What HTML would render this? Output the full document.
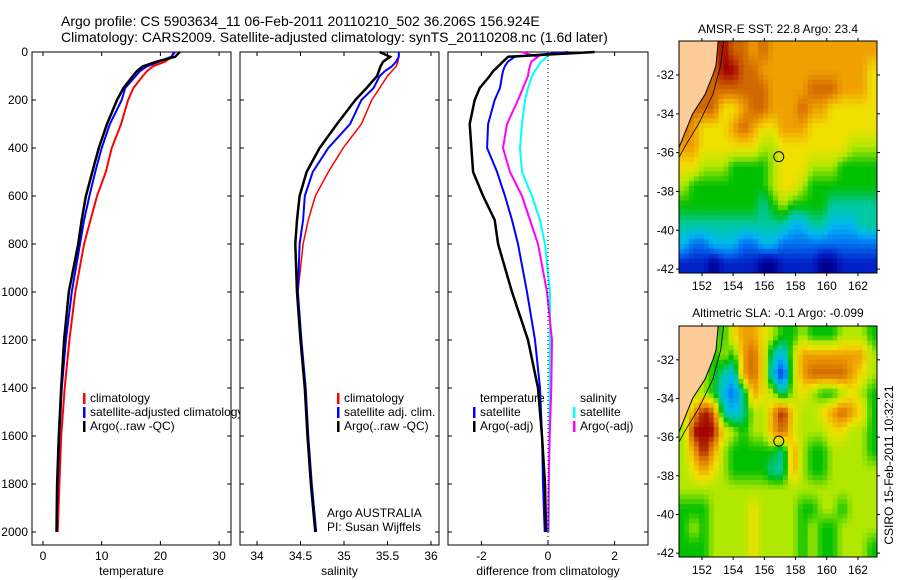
<!DOCTYPE html>
<html><head><meta charset="utf-8">
<style>
html,body{margin:0;padding:0;background:#fff;}
svg{display:block;font-family:"Liberation Sans",sans-serif;}
</style></head>
<body>
<svg id="fig" width="900" height="580" viewBox="0 0 900 580" xmlns="http://www.w3.org/2000/svg">
<rect width="900" height="580" fill="#fff"/>
<text x="61" y="26" font-size="14">Argo profile: CS 5903634_11 06-Feb-2011 20110210_502 36.206S 156.924E</text>
<text x="61" y="42" font-size="14">Climatology: CARS2009. Satellite-adjusted climatology: synTS_20110208.nc (1.6d later)</text>
<text x="778" y="33" font-size="12" text-anchor="middle">AMSR-E SST: 22.8 Argo: 23.4</text>
<text x="778" y="317" font-size="12" text-anchor="middle">Altimetric SLA: -0.1 Argo: -0.099</text>
<text transform="translate(893,465) rotate(-90)" font-size="12" text-anchor="middle">CSIRO 15-Feb-2011 10:32:21</text>
<g id="g"></g>
</svg>
<script>
// ---- profile data ----
const depths = [0,20,40,60,80,100,150,200,300,400,500,600,700,800,1000,1200,1400,1600,1800,2000];
const tempClim = [22.2,22,20.8,18.7,17.7,17,15.4,14.5,13.3,11.7,10.7,9.2,8.1,7.0,5.5,4.5,3.7,3.1,2.8,2.5];
const tempSat  = [22.5,21.8,19.8,17.7,16.5,15.8,14,13.4,11.4,10,8.9,7.9,7.0,6.3,4.9,3.9,3.2,2.8,2.5,2.3];
const tempArgo = [23.3,22.5,19.4,17,16,15.3,13.7,12.6,10.9,9.5,8.4,7.3,6.6,6.0,4.4,3.6,3.1,2.7,2.4,2.3];
const salClim = [35.63,35.63,35.62,35.6,35.55,35.5,35.41,35.32,35.2,34.99,34.82,34.67,34.59,34.53,34.47,34.5,34.55,34.58,34.62,34.67];
const salSat  = [35.63,35.63,35.6,35.55,35.47,35.41,35.34,35.2,35.07,34.82,34.64,34.55,34.53,34.49,34.47,34.51,34.56,34.59,34.63,34.68];
const salArgo = [35.41,35.53,35.45,35.42,35.4,35.38,35.26,35.13,34.92,34.72,34.57,34.49,34.46,34.44,34.46,34.5,34.55,34.58,34.62,34.67];
const dTempSat  = [0.6,-1.0,-1.2,-1.3,-1.35,-1.38,-1.44,-1.6,-1.8,-1.83,-1.53,-1.29,-1.08,-0.9,-0.63,-0.39,-0.24,-0.18,-0.15,-0.1];
const dTempArgo = [1.4,-1.2,-1.35,-1.5,-1.65,-1.75,-2.05,-2.2,-2.35,-2.3,-2.25,-1.95,-1.6,-1.5,-1.08,-0.6,-0.3,-0.18,-0.09,-0.06];
const dSalSat   = [0.06,-0.03,-0.2,-0.3,-0.4,-0.48,-0.6,-0.69,-0.78,-0.84,-0.78,-0.48,-0.24,-0.09,0.06,0.06,0.05,0.04,0.03,0.03];
const dSalArgo  = [-0.8,-0.3,-0.5,-0.55,-0.58,-0.6,-0.75,-0.9,-1.23,-1.35,-1.14,-0.78,-0.54,-0.3,-0.03,0.12,0.1,0.05,0.02,0];
const depthTicks = [0,200,400,600,800,1000,1200,1400,1600,1800,2000];
const tempTicks = [0,10,20,30];
const salTicks = [34,34.5,35,35.5,36];
const diffTicks = [-2,0,2];
// ---- map data (rows north->south, 20 columns west->east; -1 = land) ----
const sstGrid = [
[-1,-1,-1,-1,10,9,9,8,9,8,8,8,8,8,8,8,8,8,8,8],
[-1,-1,-1,-1,10,10,9,9,8,8,8,8,8,8,8,8,8,8,8,7],
[-1,-1,-1,9,9,9,9,9,9,8,8,8,8,9,9,9,8,8,8,7],
[-1,-1,9,9,7,7,8,9,9,8,8,8,9,8,8,7,7,7,7,7],
[9,8,7,7,7,8,9,8,7,7,8,8,8,7,7,7,7,7,7,7],
[8,8,7,7,7,7,7,7,6,6,7,7,7,7,7,7,7,6,6,6],
[7,7,6,6,6,5,5,5,5,6,7,7,7,6,6,6,5,5,5,5],
[6,5,5,5,5,5,5,5,5,6,7,7,6,5,5,5,5,5,5,5],
[5,5,5,5,5,5,5,5,4,5,6,5,5,5,5,4,4,4,4,4],
[4,4,4,4,4,4,4,4,4,4,4,3,3,4,4,3,3,3,4,4],
[3,2,2,3,3,3,2,2,3,3,2,2,2,2,2,2,2,2,2,2],
[1,1,1,0,1,1,1,1,0,0,1,1,1,1,0,0,1,1,1,1]];
const slaGrid = [
[-1,-1,-1,-1,5,7,8,8,7,6,5,5,6,5,5,5,6,6,6,5],
[-1,-1,-1,5,6,5,8,9,7,4,3,6,8,8,8,8,8,8,8,6],
[-1,-1,-1,5,4,3,8,9,7,3,1,6,8,9,9,9,9,8,7,6],
[-1,-1,6,5,3,2,4,8,7,6,4,6,7,6,5,5,6,7,6,5],
[6,8,10,9,4,3,4,6,6,8,10,7,6,6,7,8,9,8,7,5],
[6,10,10,10,7,6,5,6,6,8,9,7,6,6,6,7,7,6,6,5],
[6,8,10,8,6,5,5,5,5,5,4,8,6,5,5,6,6,6,6,5],
[6,7,8,7,6,5,5,5,5,4,4,8,6,5,5,6,6,6,6,6],
[6,6,6,6,6,6,6,6,6,6,6,6,6,6,6,6,6,6,6,6],
[5,5,5,6,6,6,6,7,6,6,6,6,5,5,6,6,5,6,6,6],
[5,6,5,6,6,6,6,7,6,6,6,6,5,6,5,5,6,6,6,6],
[5,5,5,6,6,6,6,7,6,6,6,6,5,6,5,5,6,6,6,5]];
const lonTicks = [152,154,156,158,160,162];
const latTicks = [-32,-34,-36,-38,-40,-42];
const argoLon = 156.924, argoLat = -36.206;

const NS="http://www.w3.org/2000/svg";
const G=document.getElementById('g');
function el(tag,attrs,parent){const e=document.createElementNS(NS,tag);for(const k in attrs)e.setAttribute(k,attrs[k]);(parent||G).appendChild(e);return e;}
function txt(x,y,s,size,anchor,parent){const t=el('text',{x:x,y:y,'font-size':size,'text-anchor':anchor||'start'},parent);t.textContent=s;return t;}

const yDepth=d=>52+d*0.24;
function panel(name,x0,x1,xs,xTicks,xfmt,xlabel,series,ylabels){
  const g=el('g',{});
  
  
  const yb=545;
  el('rect',{x:x0,y:52,width:x1-x0,height:yb-52,fill:'#fff',stroke:'#000','stroke-width':1},g);
  depthTicks.forEach(d=>{const y=yDepth(d);
    el('line',{x1:x0,x2:x0+4,y1:y,y2:y,stroke:'#000'},g);
    el('line',{x1:x1-4,x2:x1,y1:y,y2:y,stroke:'#000'},g);
    if(ylabels){const t=txt(x0-4,y+4,String(d),12,'end',g);}
  });
  xTicks.forEach(v=>{const x=xs(v);
    el('line',{x1:x,x2:x,y1:52,y2:56,stroke:'#000'},g);
    el('line',{x1:x,x2:x,y1:yb-4,y2:yb,stroke:'#000'},g);
    const t=txt(x,560,xfmt(v),12,'middle',g);
    
    
  });
  const xl=txt((x0+x1)/2,575,xlabel,12,'middle',g);
  
  
  series.forEach(s=>{
    const pts=depths.map((d,i)=>xs(s.v[i]).toFixed(1)+','+yDepth(d).toFixed(1)).join(' ');
    const p=el('polyline',{points:pts,fill:'none',stroke:s.c,'stroke-width':s.w},g);
    
    
  });
  return g;
}
const xT=v=>43+v*5.87;
const xS=v=>257+(v-34)*87;
const xD=v=>548+v*33.3;
const g1=panel('temperature-panel',32,231,xT,tempTicks,String,'temperature',[
 {v:tempClim,c:'#f00',w:2,n:'temp-climatology-line'},
 {v:tempSat,c:'#00f',w:2,n:'temp-satellite-line'},
 {v:tempArgo,c:'#000',w:2.5,n:'temp-argo-line'}],true);
const g2=panel('salinity-panel',240,439,xS,salTicks,String,'salinity',[
 {v:salClim,c:'#f00',w:1.5,n:'sal-climatology-line'},
 {v:salSat,c:'#00f',w:2,n:'sal-satellite-line'},
 {v:salArgo,c:'#000',w:2.5,n:'sal-argo-line'}],false);
const g3=panel('difference-panel',448,648,xD,diffTicks,String,'difference from climatology',[
 {v:dSalSat,c:'#0ff',w:2,n:'diff-sal-satellite-line'},
 {v:dSalArgo,c:'#f0f',w:2,n:'diff-sal-argo-line'},
 {v:dTempSat,c:'#00f',w:2,n:'diff-temp-satellite-line'},
 {v:dTempArgo,c:'#000',w:2.5,n:'diff-temp-argo-line'}],false);
const zl=el('line',{x1:xD(0),x2:xD(0),y1:52,y2:545,stroke:'#000','stroke-dasharray':'1,3'},g3);



function legend(parent,x,y,items){
  items.forEach((it,i)=>{
    if(it.c) el('rect',{x:x,y:y+i*14-9,width:2.5,height:11,fill:it.c},parent);
    const t=txt(x+7,y+i*14,it.t,12,'start',parent);
    
    
  });
}
legend(g1,83,402,[{c:'#f00',t:'climatology'},{c:'#00f',t:'satellite-adjusted climatology'},{c:'#000',t:'Argo(..raw -QC)'}]);
legend(g2,337,402,[{c:'#f00',t:'climatology'},{c:'#00f',t:'satellite adj. clim.'},{c:'#000',t:'Argo(..raw -QC)'}]);
legend(g3,473,402,[{c:null,t:'temperature'},{c:'#00f',t:'satellite'},{c:'#000',t:'Argo(-adj)'}]);
legend(g3,573,402,[{c:null,t:'salinity'},{c:'#0ff',t:'satellite'},{c:'#f0f',t:'Argo(-adj)'}]);
const a1=txt(327,517,'Argo AUSTRALIA',12,'start',g2);


const a2=txt(327,531,'PI: Susan Wijffels',12,'start',g2);



// ---- maps ----
const pal=[[0,0,144],[0,32,200],[0,112,240],[0,184,240],[0,200,160],[0,192,0],[176,232,0],[240,224,0],[240,160,0],[208,104,0],[160,0,0]];
function colorOf(v){v=Math.max(0,Math.min(10,v));const i=Math.min(9,Math.floor(v)),f=v-i;const a=pal[i],b=pal[i+1];
  return 'rgb('+a.map((c,k)=>Math.round(c+(b[k]-c)*f)).join(',')+')';}
const LON0=150.53,LON1=163.22,LAT0=-30.25,LAT1=-42.2;
const land=[[150.4,-30.2],[153.05,-30.2],[152.9,-31.5],[152.7,-32],[152.2,-33],[151.4,-34],[150.9,-35],[150.5,-35.8],[150.4,-35.9]];
const shelf=[[153.4,-30.2],[153.2,-31.5],[152.7,-33],[151.8,-34.5],[150.9,-35.7],[150.5,-36.3]];
function map(name,grid,top,bot,landFill){
  const X0=679,X1=877;
  const g=el('g',{});
  
  
  const xm=lon=>X0+(lon-LON0)/(LON1-LON0)*(X1-X0);
  const ym=lat=>top+(lat-LAT0)/(LAT1-LAT0)*(bot-top);
  const nr=grid.length,nc=grid[0].length;
  const val=(r,c)=>{r=Math.max(0,Math.min(nr-1,r));c=Math.max(0,Math.min(nc-1,c));const v=grid[r][c];return v<0?landFill:v;};
  const SX=2,SY=4;
  const cw=(X1-X0)/(nc*SX), rh=(bot-top)/(nr*SY);
  for(let i=0;i<nr*SY;i++){for(let j=0;j<nc*SX;j++){
    const gr=(i+0.5)/SY-0.5, gc=(j+0.5)/SX-0.5;
    const r0=Math.floor(gr),c0=Math.floor(gc),fr=gr-r0,fc=gc-c0;
    const v=val(r0,c0)*(1-fr)*(1-fc)+val(r0,c0+1)*(1-fr)*fc+val(r0+1,c0)*fr*(1-fc)+val(r0+1,c0+1)*fr*fc;
    const cell=el('rect',{x:(X0+j*cw).toFixed(1),y:(top+i*rh).toFixed(1),width:(cw+0.5).toFixed(1),height:(rh+0.5).toFixed(1),fill:colorOf(v)},g);
    
    
  }}
  const cp='cp'+name; const defs=el('clipPath',{id:cp},g); el('rect',{x:X0,y:top,width:X1-X0,height:bot-top},defs);
  const lp=el('polygon',{points:land.map(p=>xm(p[0])+','+ym(p[1])).join(' '),fill:'#fccb98','clip-path':'url(#'+cp+')'},g);
  
  
  el('polyline',{points:land.slice(1,8).map(p=>xm(p[0])+','+ym(p[1])).join(' '),fill:'none',stroke:'#000','stroke-width':1,'clip-path':'url(#'+cp+')'},g);
  el('polyline',{points:shelf.map(p=>xm(p[0])+','+ym(p[1])).join(' '),fill:'none',stroke:'#000','stroke-width':0.8,'clip-path':'url(#'+cp+')'},g);
  const c=el('circle',{cx:xm(argoLon),cy:ym(argoLat),r:5,fill:'none',stroke:'#000','stroke-width':1},g);
  
  
  el('rect',{x:X0,y:top,width:X1-X0,height:bot-top,fill:'none',stroke:'#000'},g);
  lonTicks.forEach(l=>{const x=xm(l);
    el('line',{x1:x,x2:x,y1:top-3,y2:top,stroke:'#000'},g);
    el('line',{x1:x,x2:x,y1:bot,y2:bot+3,stroke:'#000'},g);
    const t=txt(x,bot+17,String(l),12,'middle',g);
    
    
  });
  latTicks.forEach(l=>{const y=ym(l);
    el('line',{x1:X0-3,x2:X0,y1:y,y2:y,stroke:'#000'},g);
    el('line',{x1:X1,x2:X1+3,y1:y,y2:y,stroke:'#000'},g);
    const t=txt(X0-5,y+4,String(l),12,'end',g);
    
    
  });
}
map('sst-map',sstGrid,41,273,9);
map('sla-map',slaGrid,326,557,6);
</script>
</body></html>
